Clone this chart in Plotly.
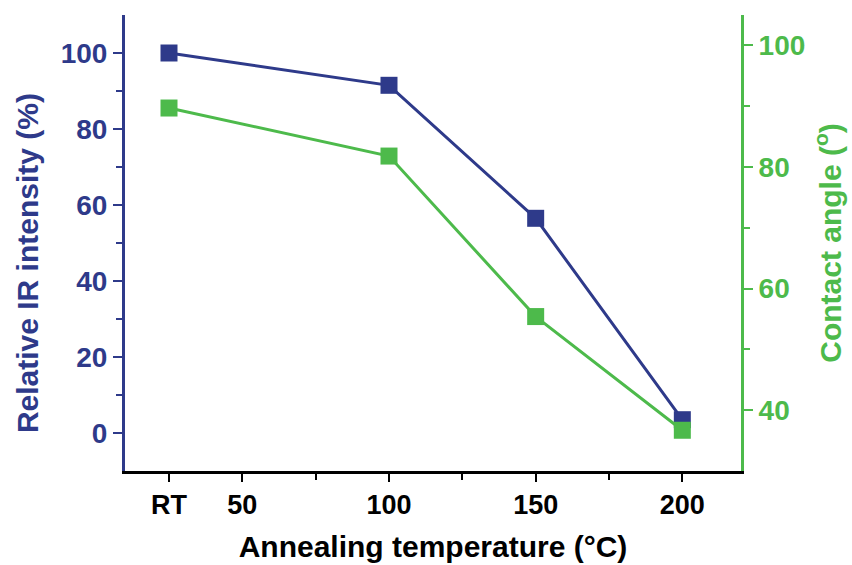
import plotly.graph_objects as go

temps = [25, 100, 150, 200]
x_tick_vals = [25, 50, 100, 150, 200]
x_tick_text = ["RT", "50", "100", "150", "200"]
ir_intensity = [100, 91.5, 56.5, 3.5]
contact_angle = [89.7, 81.8, 55.4, 36.7]

BLUE = "#2E3A8A"
GREEN = "#4DBA4B"
FONT = "Liberation Sans"

fig = go.Figure()
fig.add_trace(go.Scatter(x=temps, y=ir_intensity, mode="lines+markers",
                         line=dict(color=BLUE, width=3),
                         marker=dict(symbol="square", size=17, color=BLUE),
                         showlegend=False))
fig.add_trace(go.Scatter(x=temps, y=contact_angle, mode="lines+markers", yaxis="y2",
                         line=dict(color=GREEN, width=3),
                         marker=dict(symbol="square", size=17, color=GREEN),
                         showlegend=False))

fig.update_layout(
    width=852, height=565,
    margin=dict(l=125, r=111, t=15, b=94),
    plot_bgcolor="white", paper_bgcolor="white",
    font=dict(family=FONT),
    xaxis=dict(range=[10, 220], tickvals=x_tick_vals, ticktext=x_tick_text,
               automargin=False,
               ticks="outside", ticklen=8, tickwidth=2, tickcolor="black",
               showline=True, linecolor="black", linewidth=3,
               showgrid=False, zeroline=False,
               tickfont=dict(family=FONT, size=27, color="black", weight="bold"),
               minor=dict(tickvals=[75, 125, 175], ticks="outside", ticklen=6,
                          tickwidth=2, tickcolor="black", showgrid=False),
               title=dict(text="Annealing temperature (°C)", standoff=17,
                          font=dict(family=FONT, size=30, color="black", weight="bold"))),
    yaxis=dict(range=[-10, 110], tickvals=[0, 20, 40, 60, 80, 100],
               automargin=False,
               ticks="outside", ticklen=9, tickwidth=2, tickcolor=BLUE,
               showline=True, linecolor=BLUE, linewidth=3,
               showgrid=False, zeroline=False,
               tickfont=dict(family=FONT, size=28, color=BLUE, weight="bold"),
               minor=dict(tickvals=[10, 30, 50, 70, 90], ticks="outside", ticklen=6,
                          tickwidth=2, tickcolor=BLUE, showgrid=False)),
    yaxis2=dict(range=[30, 105], tickvals=[40, 60, 80, 100], overlaying="y", side="right",
                automargin=False,
                ticks="outside", ticklen=9, tickwidth=2, tickcolor=GREEN,
                showline=True, linecolor=GREEN, linewidth=3,
                showgrid=False, zeroline=False,
                tickfont=dict(family=FONT, size=28, color=GREEN, weight="bold"),
                minor=dict(tickvals=[50, 70, 90], ticks="outside", ticklen=6,
                           tickwidth=2, tickcolor=GREEN, showgrid=False),
                title=dict(text="Contact angle (<sup>o</sup>)", standoff=16,
                           font=dict(family=FONT, size=30, color=GREEN, weight="bold"))),
    annotations=[dict(text="Relative IR intensity (%)", textangle=-90,
                      xref="paper", yref="paper", x=-0.159, y=0.456,
                      xanchor="center", yanchor="middle", showarrow=False,
                      font=dict(family=FONT, size=30, color=BLUE, weight="bold"))],
)

fig.write_html("out.html")
